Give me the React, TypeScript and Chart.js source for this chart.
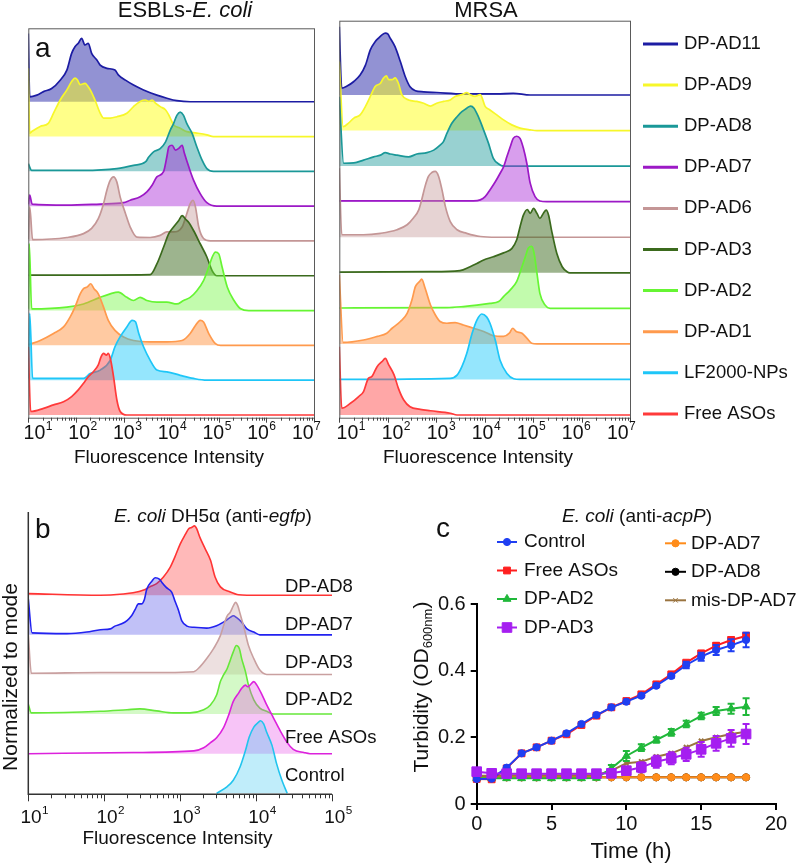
import React, { useEffect, useRef } from 'react';
import { Chart, registerables } from 'chart.js';
import { drawPoint } from 'chart.js/helpers';

Chart.register(...registerables);

const FONT = "'Liberation Sans', Arial, Helvetica, sans-serif";

// ---------------- Panel a data ----------------
const A_ROWS = ['DP-AD11', 'DP-AD9', 'DP-AD8', 'DP-AD7', 'DP-AD6', 'DP-AD3', 'DP-AD2', 'DP-AD1', 'LF2000-NPs', 'Free ASOs'];
const A_TICK_EXPS = [1, 2, 3, 4, 5, 6, 7];

// [log10(intensity), normalized height]
const ESBL_AD11 = [[1.0,1.96],[1.03,0.14],[1.18,0.19],[1.32,0.29],[1.49,0.38],[1.67,0.62],[1.81,0.91],[1.91,1.39],[1.98,1.58],[2.05,1.68],[2.12,1.82],[2.19,1.63],[2.26,1.68],[2.33,1.39],[2.44,1.2],[2.51,1.05],[2.65,0.96],[2.82,0.91],[2.89,0.77],[3.04,0.62],[3.21,0.48],[3.42,0.34],[3.7,0.19],[3.91,0.1],[4.12,0.03],[4.4,0],[7,0]];
const ESBL_AD9 = [[1.0,1.96],[1.03,0.1],[1.07,0.14],[1.25,0.29],[1.42,0.38],[1.53,0.67],[1.67,1.05],[1.81,1.34],[1.91,1.58],[1.98,1.68],[2.03,1.63],[2.09,1.49],[2.19,1.53],[2.3,1.34],[2.4,1.05],[2.51,0.67],[2.58,0.53],[2.72,0.53],[2.86,0.57],[3.07,0.67],[3.21,0.86],[3.35,1.01],[3.46,1.05],[3.53,1.01],[3.6,1.05],[3.67,0.96],[3.77,0.86],[3.88,0.77],[3.95,0.62],[4.05,0.34],[4.19,0.24],[4.33,0.14],[4.54,0.1],[4.75,0.05],[4.89,0],[7,0]];
const ESBL_AD8 = [[1.0,0.22],[1.07,0.03],[2.16,0.03],[2.86,0.08],[3.21,0.17],[3.46,0.27],[3.53,0.41],[3.63,0.56],[3.77,0.65],[3.88,0.84],[3.98,1.18],[4.05,1.37],[4.12,1.61],[4.19,1.7],[4.26,1.61],[4.33,1.37],[4.44,1.09],[4.54,0.7],[4.65,0.32],[4.75,0.08],[4.89,0],[7,0]];
const ESBL_AD7 = [[1.0,0.05],[1.03,0.32],[1.08,0.06],[1.81,0.03],[2.51,0.06],[3.0,0.1],[3.14,0.17],[3.35,0.27],[3.49,0.41],[3.6,0.6],[3.7,0.84],[3.84,0.99],[3.91,1.42],[3.95,1.7],[4.02,1.75],[4.09,1.61],[4.16,1.66],[4.23,1.75],[4.28,1.51],[4.37,1.13],[4.47,0.75],[4.61,0.36],[4.75,0.1],[4.96,0],[7,0]];
const ESBL_AD6 = [[1.0,0.05],[1.03,0.98],[1.09,0.04],[1.81,0.1],[2.16,0.21],[2.33,0.36],[2.47,0.64],[2.58,1.07],[2.65,1.46],[2.72,1.74],[2.79,1.84],[2.86,1.69],[2.93,1.26],[3.04,0.79],[3.14,0.4],[3.28,0.11],[3.56,0.1],[3.77,0.16],[3.91,0.26],[4.05,0.26],[4.23,0.4],[4.33,0.79],[4.4,1.07],[4.46,1.17],[4.51,0.98],[4.58,0.4],[4.68,0.07],[4.82,0],[7,0]];
const ESBL_AD3 = [[1.0,0.02],[2.51,0.02],[3.56,0.03],[3.7,0.34],[3.84,0.82],[3.95,1.21],[4.05,1.4],[4.16,1.59],[4.23,1.73],[4.3,1.63],[4.37,1.53],[4.47,1.3],[4.61,0.92],[4.75,0.54],[4.86,0.15],[4.96,0],[7,0]];
const ESBL_AD2 = [[1.0,0.05],[1.02,1.92],[1.07,0.05],[1.81,0.1],[2.16,0.19],[2.51,0.38],[2.72,0.48],[2.89,0.53],[3.07,0.38],[3.21,0.29],[3.35,0.38],[3.49,0.29],[3.7,0.24],[3.91,0.24],[4.12,0.19],[4.26,0.29],[4.4,0.38],[4.54,0.57],[4.68,0.86],[4.79,1.25],[4.86,1.53],[4.93,1.68],[5.0,1.63],[5.07,1.25],[5.18,0.67],[5.32,0.29],[5.46,0.05],[5.63,0],[7,0]];
const ESBL_AD1 = [[1.0,0.02],[1.07,0.05],[1.25,0.14],[1.53,0.34],[1.74,0.53],[1.88,0.82],[1.98,1.1],[2.09,1.48],[2.16,1.63],[2.24,1.68],[2.31,1.77],[2.38,1.63],[2.47,1.48],[2.58,1.1],[2.68,0.72],[2.82,0.43],[3.0,0.24],[3.21,0.14],[3.56,0.1],[3.91,0.1],[4.23,0.14],[4.4,0.34],[4.51,0.57],[4.61,0.72],[4.68,0.67],[4.79,0.34],[4.93,0.05],[5.04,0],[7,0]];
const ESBL_LF = [[1.0,0.05],[1.03,1.92],[1.09,0.05],[2.16,0.05],[2.3,0.19],[2.51,0.29],[2.72,0.57],[2.82,0.96],[2.93,1.25],[3.07,1.53],[3.18,1.72],[3.25,1.68],[3.32,1.34],[3.42,0.96],[3.56,0.57],[3.7,0.29],[3.91,0.24],[4.19,0.14],[4.47,0.05],[4.75,0],[7,0]];
const ESBL_FREE = [[1.0,1.96],[1.05,0.1],[1.32,0.19],[1.53,0.29],[1.74,0.38],[1.91,0.53],[2.05,0.72],[2.16,0.91],[2.26,1.1],[2.37,1.25],[2.47,1.44],[2.53,1.68],[2.58,1.77],[2.64,1.72],[2.68,1.77],[2.73,1.58],[2.79,1.1],[2.86,0.43],[2.93,0.1],[3.07,0],[7,0]];

const MRSA_AD11 = [[1.0,1.92],[1.05,0.19],[1.16,0.25],[1.3,0.38],[1.43,0.56],[1.54,0.84],[1.64,1.27],[1.74,1.5],[1.81,1.6],[1.88,1.69],[1.95,1.74],[2.0,1.72],[2.05,1.6],[2.15,1.36],[2.26,0.94],[2.36,0.52],[2.46,0.23],[2.57,0.12],[2.74,0.09],[3.01,0.07],[3.56,0.03],[4.25,0.03],[4.59,0.05],[4.94,0],[7,0]];
const MRSA_AD9 = [[1.0,1.94],[1.08,0.11],[1.19,0.21],[1.3,0.35],[1.43,0.44],[1.54,0.68],[1.64,0.96],[1.74,1.24],[1.85,1.33],[1.91,1.47],[1.97,1.54],[2.02,1.43],[2.09,1.43],[2.15,1.48],[2.22,1.33],[2.29,1.01],[2.43,0.86],[2.6,0.82],[2.74,0.77],[2.88,0.69],[3.01,0.77],[3.15,0.82],[3.29,0.86],[3.39,0.96],[3.53,1.01],[3.63,1.07],[3.7,1.01],[3.8,0.96],[3.91,1.01],[4.01,0.68],[4.11,0.58],[4.25,0.44],[4.39,0.3],[4.56,0.16],[4.73,0.07],[4.94,0.02],[5.08,0],[7,0]];
const MRSA_AD8 = [[1.0,1.95],[1.09,0.08],[1.3,0.09],[1.5,0.17],[1.71,0.26],[1.85,0.31],[1.95,0.38],[2.05,0.34],[2.19,0.31],[2.43,0.26],[2.6,0.34],[2.81,0.38],[2.95,0.45],[3.08,0.59],[3.15,0.69],[3.22,0.92],[3.32,1.2],[3.43,1.39],[3.53,1.53],[3.63,1.63],[3.71,1.69],[3.78,1.63],[3.87,1.39],[3.98,1.01],[4.08,0.64],[4.18,0.22],[4.29,0.06],[4.39,0],[7,0]];
const MRSA_AD7 = [[1.0,0.02],[3.77,0.02],[3.91,0.05],[4.01,0.14],[4.11,0.33],[4.22,0.56],[4.32,0.8],[4.39,0.98],[4.46,1.27],[4.53,1.55],[4.59,1.78],[4.66,1.84],[4.73,1.78],[4.8,1.5],[4.87,1.08],[4.94,0.52],[5.04,0.14],[5.14,0.02],[5.28,0],[7,0]];
const MRSA_AD6 = [[1.0,1.94],[1.05,0.07],[1.5,0.07],[1.85,0.11],[2.19,0.21],[2.4,0.35],[2.53,0.54],[2.64,0.77],[2.7,1.05],[2.77,1.43],[2.84,1.71],[2.91,1.82],[2.98,1.85],[3.05,1.71],[3.12,1.33],[3.19,0.86],[3.29,0.44],[3.43,0.21],[3.63,0.11],[3.91,0.02],[4.25,0],[7,0]];
const MRSA_AD3 = [[1.0,0.02],[2.88,0.03],[3.49,0.06],[3.7,0.17],[3.84,0.26],[3.98,0.36],[4.18,0.45],[4.39,0.56],[4.56,0.68],[4.66,0.92],[4.73,1.29],[4.8,1.62],[4.88,1.78],[4.94,1.67],[5.01,1.81],[5.08,1.67],[5.14,1.53],[5.21,1.67],[5.27,1.76],[5.32,1.62],[5.38,1.2],[5.49,0.54],[5.6,0.17],[5.7,0.03],[5.76,0],[7,0]];
const MRSA_AD2 = [[1.0,0.01],[3.22,0.02],[3.56,0.05],[3.84,0.09],[4.11,0.14],[4.29,0.19],[4.39,0.33],[4.53,0.52],[4.66,0.75],[4.77,1.17],[4.84,1.45],[4.9,1.69],[4.97,1.74],[5.02,1.55],[5.08,0.98],[5.14,0.42],[5.25,0.09],[5.35,0],[7,0]];
const MRSA_AD1 = [[1.0,1.94],[1.08,0.04],[1.5,0.11],[1.78,0.21],[1.98,0.3],[2.09,0.44],[2.26,0.63],[2.4,0.86],[2.5,1.24],[2.57,1.61],[2.66,1.76],[2.7,1.82],[2.77,1.57],[2.88,1.1],[2.98,0.82],[3.08,0.63],[3.22,0.58],[3.39,0.6],[3.56,0.53],[3.77,0.44],[3.98,0.35],[4.18,0.23],[4.39,0.21],[4.51,0.3],[4.58,0.44],[4.65,0.35],[4.77,0.3],[4.87,0.16],[4.97,0.02],[5.08,0],[7,0]];
const MRSA_LF = [[1.0,0],[3.29,0.03],[3.43,0.12],[3.53,0.36],[3.63,0.73],[3.74,1.29],[3.84,1.67],[3.94,1.84],[4.04,1.76],[4.11,1.58],[4.22,1.1],[4.32,0.53],[4.46,0.17],[4.6,0.02],[4.73,0],[7,0]];
const MRSA_FREE = [[1.0,1.92],[1.05,0.19],[1.23,0.33],[1.4,0.52],[1.5,0.66],[1.6,1.03],[1.67,1.08],[1.78,1.36],[1.88,1.5],[1.95,1.59],[2.02,1.41],[2.13,1.13],[2.22,0.75],[2.33,0.42],[2.46,0.23],[2.67,0.16],[2.88,0.12],[3.29,0.05],[3.43,0],[7,0]];

const ESBL_CURVES = [ESBL_AD11, ESBL_AD9, ESBL_AD8, ESBL_AD7, ESBL_AD6, ESBL_AD3, ESBL_AD2, ESBL_AD1, ESBL_LF, ESBL_FREE];
const MRSA_CURVES = [MRSA_AD11, MRSA_AD9, MRSA_AD8, MRSA_AD7, MRSA_AD6, MRSA_AD3, MRSA_AD2, MRSA_AD1, MRSA_LF, MRSA_FREE];

const A_LINE_COLORS = ['#1c1ca3', '#f7f72a', '#1a9898', '#9c19c6', '#c49696', '#3b6a1d', '#66f533', '#ff9a4d', '#1ec6f8', '#ff3a3a'];
const A_FILL_COLORS = ['rgba(28,28,163,0.48)', 'rgba(255,255,20,0.5)', 'rgba(26,152,152,0.45)', 'rgba(168,40,215,0.45)', 'rgba(196,150,150,0.42)', 'rgba(59,106,29,0.5)', 'rgba(110,245,60,0.42)', 'rgba(255,150,70,0.5)', 'rgba(20,200,250,0.45)', 'rgba(255,60,60,0.45)'];

// ---------------- Panel b data ----------------
const B_ROWS = ['DP-AD8', 'DP-AD7', 'DP-AD3', 'DP-AD2', 'Free ASOs', 'Control'];
const B_TICK_EXPS = [1, 2, 3, 4, 5];
const B_AD8 = [[1.0,0.04],[1.95,0],[2.25,0.03],[2.38,0.06],[2.52,0.13],[2.6,0.21],[2.69,0.29],[2.78,0.46],[2.87,0.71],[2.93,0.96],[3.0,1.29],[3.07,1.54],[3.11,1.67],[3.15,1.71],[3.19,1.75],[3.22,1.67],[3.26,1.46],[3.33,1.17],[3.4,0.88],[3.46,0.46],[3.53,0.21],[3.66,0.08],[3.77,0.01],[3.88,0],[5,0]];
const B_AD7 = [[1.0,0.9],[1.05,0.05],[1.51,0.03],[1.77,0.07],[1.95,0.13],[2.08,0.15],[2.14,0.22],[2.23,0.28],[2.3,0.36],[2.36,0.48],[2.41,0.65],[2.45,0.78],[2.49,0.78],[2.53,0.9],[2.56,1.15],[2.63,1.36],[2.67,1.44],[2.73,1.4],[2.76,1.32],[2.82,1.19],[2.89,1.07],[2.93,0.86],[2.98,0.61],[3.02,0.36],[3.09,0.22],[3.18,0.19],[3.35,0.17],[3.48,0.23],[3.57,0.32],[3.66,0.44],[3.7,0.48],[3.74,0.44],[3.81,0.32],[3.88,0.15],[3.97,0.07],[4.05,0],[5,0]];
const B_AD3 = [[1.0,1.0],[1.04,0.03],[1.95,0.05],[2.82,0.05],[3.18,0.07],[3.26,0.19],[3.35,0.4],[3.44,0.65],[3.53,0.98],[3.58,1.28],[3.62,1.48],[3.66,1.57],[3.7,1.73],[3.73,1.82],[3.76,1.73],[3.79,1.53],[3.84,1.19],[3.9,0.73],[3.97,0.4],[4.05,0.11],[4.14,0],[5,0]];
const B_AD2 = [[1.0,0.25],[1.04,0.03],[1.95,0.07],[2.3,0.11],[2.47,0.13],[2.69,0.08],[2.91,0.03],[3.13,0.03],[3.31,0.11],[3.4,0.23],[3.48,0.48],[3.53,0.82],[3.57,0.98],[3.62,1.15],[3.66,1.36],[3.7,1.57],[3.74,1.73],[3.78,1.65],[3.81,1.4],[3.86,1.07],[3.9,0.73],[3.97,0.36],[4.05,0.15],[4.14,0.07],[4.23,0],[5,0]];
const B_FREE = [[1.0,0],[2.38,0.03],[3.18,0.07],[3.31,0.15],[3.4,0.28],[3.48,0.4],[3.57,0.65],[3.64,0.98],[3.7,1.32],[3.77,1.53],[3.81,1.65],[3.86,1.73],[3.89,1.69],[3.92,1.73],[3.97,1.82],[4.01,1.73],[4.08,1.48],[4.14,1.23],[4.23,0.9],[4.32,0.57],[4.41,0.28],[4.49,0.11],[4.63,0.03],[4.71,0],[5,0]];
const B_CTRL = [[3.48,0],[3.62,0.17],[3.7,0.33],[3.79,0.67],[3.86,1.08],[3.91,1.42],[3.97,1.67],[4.03,1.79],[4.06,1.83],[4.1,1.75],[4.14,1.54],[4.21,1.21],[4.27,0.75],[4.34,0.33],[4.41,0]];
const B_CURVES = [B_AD8, B_AD7, B_AD3, B_AD2, B_FREE, B_CTRL];
const B_LINE_COLORS = ['#ff3434', '#2222f0', '#c9a0a0', '#66e83a', '#dc22dc', '#22c4ee'];
const B_FILL_COLORS = ['rgba(255,70,70,0.38)', 'rgba(50,50,230,0.3)', 'rgba(200,160,160,0.32)', 'rgba(120,235,80,0.32)', 'rgba(230,70,230,0.32)', 'rgba(60,200,240,0.32)'];

// ---------------- Panel c data ----------------
const C_TIMES = [0, 1, 2, 3, 4, 5, 6, 7, 8, 9, 10, 11, 12, 13, 14, 15, 16, 17, 18];
const C_LABELS = ['Control', 'Free ASOs', 'DP-AD2', 'DP-AD3', 'DP-AD7', 'DP-AD8', 'mis-DP-AD7'];
const C_CONTROL = [0.075,0.076,0.109,0.152,0.17,0.19,0.212,0.24,0.267,0.29,0.307,0.325,0.355,0.384,0.417,0.442,0.462,0.476,0.492];
const C_FREE = [0.075,0.074,0.107,0.152,0.17,0.19,0.209,0.237,0.265,0.29,0.309,0.329,0.359,0.389,0.424,0.452,0.475,0.492,0.504];
const C_AD2 = [0.077,0.077,0.077,0.077,0.077,0.077,0.077,0.077,0.078,0.107,0.144,0.169,0.192,0.215,0.24,0.264,0.279,0.286,0.292];
const C_AD3 = [0.097,0.092,0.091,0.091,0.091,0.091,0.091,0.091,0.091,0.092,0.1,0.11,0.127,0.137,0.149,0.164,0.182,0.197,0.21];
const C_AD7 = [0.08,0.08,0.08,0.08,0.08,0.08,0.08,0.08,0.08,0.08,0.08,0.08,0.08,0.08,0.08,0.08,0.08,0.08,0.08];
const C_AD8 = [0.082,0.08,0.08,0.08,0.08,0.08,0.08,0.08,0.08,0.08,0.08,0.08,0.08,0.08,0.08,0.08,0.08,0.08,0.08];
const C_MIS = [0.085,0.085,0.086,0.086,0.086,0.086,0.086,0.086,0.087,0.1,0.122,0.127,0.142,0.152,0.17,0.189,0.2,0.21,0.217];
const C_CONTROL_ERR = [0,0,0.004,0,0,0,0,0,0,0,0,0,0,0.005,0.01,0.012,0.015,0.018,0.022];
const C_FREE_ERR = [0,0,0,0,0,0,0,0,0,0,0,0,0,0,0.005,0.006,0.008,0.008,0.01];
const C_AD2_ERR = [0,0,0,0,0,0,0,0,0,0.01,0.015,0.01,0.008,0.01,0.01,0.01,0.012,0.015,0.025];
const C_AD3_ERR = [0,0,0,0,0,0,0,0,0,0.006,0.01,0.015,0.018,0.018,0.02,0.022,0.022,0.025,0.03];
const C_ZERO_ERR = [0,0,0,0,0,0,0,0,0,0,0,0,0,0,0,0,0,0,0];
const C_VALUES = [C_CONTROL, C_FREE, C_AD2, C_AD3, C_AD7, C_AD8, C_MIS];
const C_ERRORS = [C_CONTROL_ERR, C_FREE_ERR, C_AD2_ERR, C_AD3_ERR, C_ZERO_ERR, C_ZERO_ERR, C_ZERO_ERR];
const C_COLORS = ['#1f3ff2', '#ff1f1f', '#20b83a', '#a51ff0', '#ff8c1a', '#000000', '#9a7440'];
const C_POINT_STYLES = ['circle', 'rect', 'triangle', 'rect', 'circle', 'circle', 'crossRot'];
const C_POINT_RADII = [3.6, 4.8, 4.6, 6.8, 3.6, 3.6, 3.2];
const C_ORDERS = [1, 2, 3, 0, 5, 6, 4];
const C_Y_TICKS = [0, 0.2, 0.4, 0.6];

// ---------------- helpers ----------------
function font(size: number, italic = false) {
  return `${italic ? 'italic ' : ''}${size}px ${FONT}`;
}

type Part = { t: string; i?: boolean; sub?: boolean };

function drawRich(ctx: CanvasRenderingContext2D, parts: Part[], x: number, y: number, size: number, align: 'center' | 'left') {
  ctx.textBaseline = 'middle';
  ctx.textAlign = 'left';
  const sizes = parts.map((p) => (p.sub ? size * 0.62 : size));
  const widths = parts.map((p, k) => {
    ctx.font = font(sizes[k], p.i);
    return ctx.measureText(p.t).width;
  });
  const total = widths.reduce((a, b) => a + b, 0);
  let cx = align === 'center' ? x - total / 2 : x;
  parts.forEach((p, k) => {
    ctx.font = font(sizes[k], p.i);
    ctx.fillText(p.t, cx, p.sub ? y + size * 0.32 : y);
    cx += widths[k];
  });
}

function drawPow(ctx: CanvasRenderingContext2D, exp: string, cx: number, cy: number, size: number) {
  ctx.textBaseline = 'middle';
  ctx.textAlign = 'left';
  ctx.font = font(size);
  const w1 = ctx.measureText('10').width;
  const ss = size * 0.62;
  ctx.font = font(ss);
  const w2 = ctx.measureText(exp).width;
  const x0 = cx - (w1 + w2) / 2;
  ctx.font = font(size);
  ctx.fillText('10', x0, cy);
  ctx.font = font(ss);
  ctx.fillText(exp, x0 + w1 + 0.5, cy - size * 0.36);
}

function drawLogTicks(ctx: CanvasRenderingContext2D, xs: any, yPix: number, first: number, last: number, majorLen: number, minorLen: number) {
  ctx.beginPath();
  for (let e = first; e <= last; e++) {
    const x = Math.round(xs.getPixelForValue(Math.pow(10, e))) + 0.5;
    ctx.moveTo(x, yPix);
    ctx.lineTo(x, yPix + majorLen);
    if (e < last) {
      for (let k = 2; k <= 9; k++) {
        const xm = Math.round(xs.getPixelForValue(k * Math.pow(10, e))) + 0.5;
        ctx.moveTo(xm, yPix);
        ctx.lineTo(xm, yPix + minorLen);
      }
    }
  }
  ctx.stroke();
}

function ridgeChart(canvas: HTMLCanvasElement, curves: number[][][], labels: string[], lineColors: string[], fillColors: string[], maxExp: number, yMin: number, yMax: number, padding: any, lw: number, plugin: any) {
  const n = curves.length;
  const datasets = curves.map((c, i) => {
    const base = n - 1 - i;
    return {
      label: labels[i],
      data: c.map(([lx, h]) => ({ x: Math.pow(10, lx), y: base + h })),
      borderColor: lineColors[i],
      backgroundColor: fillColors[i],
      borderWidth: lw,
      pointRadius: 0,
      fill: { value: base },
      cubicInterpolationMode: 'monotone',
      order: base,
    };
  });
  return new Chart(canvas, {
    type: 'line',
    data: { datasets } as any,
    options: {
      responsive: false,
      animation: false,
      devicePixelRatio: 1,
      layout: { padding },
      events: [],
      plugins: { legend: { display: false }, tooltip: { enabled: false } },
      scales: {
        x: { type: 'logarithmic', min: 10, max: Math.pow(10, maxExp), display: false },
        y: { type: 'linear', min: yMin, max: yMax, display: false },
      },
    } as any,
    plugins: [plugin],
  });
}

// ---------------- plugins ----------------
const esblPlugin = {
  id: 'esblDecor',
  afterDraw(chart: any) {
    const ctx = chart.ctx, ca = chart.chartArea, xs = chart.scales.x;
    ctx.save();
    ctx.strokeStyle = '#5a5a5a';
    ctx.lineWidth = 1;
    ctx.strokeRect(ca.left + 0.5, ca.top + 0.5, ca.right - ca.left, ca.bottom - ca.top);
    ctx.strokeStyle = '#444';
    drawLogTicks(ctx, xs, ca.bottom, A_TICK_EXPS[0], A_TICK_EXPS[A_TICK_EXPS.length - 1], 5, 3);
    ctx.fillStyle = '#111';
    A_TICK_EXPS.forEach((e, i) => drawPow(ctx, String(e), xs.getPixelForValue(Math.pow(10, e)) + 9.5 - 2.9 * i, 434, 19.5));
    drawRich(ctx, [{ t: 'Fluorescence Intensity' }], 169, 458, 19, 'center');
    drawRich(ctx, [{ t: 'ESBLs-' }, { t: 'E. coli', i: true }], 185, 11, 22, 'center');
    ctx.font = font(28);
    ctx.textAlign = 'left';
    ctx.textBaseline = 'alphabetic';
    ctx.fillText('a', 35, 57);
    ctx.restore();
  },
};

const MRSA_OX = 330;
const mrsaPlugin = {
  id: 'mrsaDecor',
  afterDraw(chart: any) {
    const ctx = chart.ctx, ca = chart.chartArea, xs = chart.scales.x;
    ctx.save();
    ctx.strokeStyle = '#5a5a5a';
    ctx.lineWidth = 1;
    ctx.strokeRect(ca.left + 0.5, ca.top + 0.5, ca.right - ca.left, ca.bottom - ca.top);
    ctx.strokeStyle = '#444';
    drawLogTicks(ctx, xs, ca.bottom, A_TICK_EXPS[0], A_TICK_EXPS[A_TICK_EXPS.length - 1], 5, 3);
    ctx.fillStyle = '#111';
    A_TICK_EXPS.forEach((e, i) => drawPow(ctx, String(e), xs.getPixelForValue(Math.pow(10, e)) + 11.5 - 3.4 * i, 434, 19.5));
    drawRich(ctx, [{ t: 'Fluorescence Intensity' }], 478 - MRSA_OX, 458, 19, 'center');
    drawRich(ctx, [{ t: 'MRSA' }], 486 - MRSA_OX, 11, 22, 'center');
    // legend
    A_ROWS.forEach((name, i) => {
      const y = 44 + i * 41.1;
      ctx.strokeStyle = A_LINE_COLORS[i];
      ctx.lineWidth = 3;
      ctx.beginPath();
      ctx.moveTo(643 - MRSA_OX, y);
      ctx.lineTo(678 - MRSA_OX, y);
      ctx.stroke();
      ctx.fillStyle = '#111';
      drawRich(ctx, [{ t: name }], 684 - MRSA_OX, y, 18.5, 'left');
    });
    ctx.restore();
  },
};

const B_OY = 480;
const bPlugin = {
  id: 'bDecor',
  afterDraw(chart: any) {
    const ctx = chart.ctx, ca = chart.chartArea, xs = chart.scales.x, ys = chart.scales.y;
    ctx.save();
    ctx.strokeStyle = '#333';
    ctx.lineWidth = 1.5;
    ctx.beginPath();
    ctx.moveTo(ca.left, ca.top);
    ctx.lineTo(ca.left, ca.bottom);
    ctx.lineTo(ca.right, ca.bottom);
    ctx.stroke();
    ctx.lineWidth = 1;
    drawLogTicks(ctx, xs, ca.bottom, B_TICK_EXPS[0], B_TICK_EXPS[B_TICK_EXPS.length - 1], 7, 4);
    ctx.fillStyle = '#111';
    B_TICK_EXPS.forEach((e) => drawPow(ctx, String(e), xs.getPixelForValue(Math.pow(10, e)) + 6, 817.5 - B_OY, 19));
    drawRich(ctx, [{ t: 'Fluorescence Intensity' }], 177.5, 839 - B_OY, 19, 'center');
    drawRich(ctx, [{ t: 'E. coli', i: true }, { t: ' DH5\u03b1 (anti-' }, { t: 'egfp', i: true }, { t: ')' }], 213, 517 - B_OY, 19, 'center');
    const n = B_ROWS.length;
    B_ROWS.forEach((name, i) => {
      const k = n - 1 - i;
      drawRich(ctx, [{ t: name }], 285, ys.getPixelForValue(k * 0.95 + 0.45), 18.5, 'left');
    });
    ctx.save();
    ctx.translate(11, 677 - B_OY);
    ctx.rotate(-Math.PI / 2);
    drawRich(ctx, [{ t: 'Normalized to mode' }], 0, 0, 21, 'center');
    ctx.restore();
    ctx.font = font(28);
    ctx.textAlign = 'left';
    ctx.textBaseline = 'alphabetic';
    ctx.fillText('b', 35, 538 - B_OY);
    ctx.restore();
  },
};

const C_OX = 400, C_OY = 480;
const cPlugin = {
  id: 'cDecor',
  afterDatasetDraw(chart: any, args: any) {
    const ds = chart.data.datasets[args.index];
    const errs = ds.errorBars as number[] | undefined;
    if (!errs) return;
    const ctx = chart.ctx, xs = chart.scales.x, ys = chart.scales.y;
    ctx.save();
    ctx.strokeStyle = ds.borderColor;
    ctx.lineWidth = 2;
    ctx.beginPath();
    ds.data.forEach((p: any, k: number) => {
      const e = errs[k];
      if (!e) return;
      const x = xs.getPixelForValue(p.x);
      const y1 = ys.getPixelForValue(p.y - e);
      const y2 = ys.getPixelForValue(p.y + e);
      ctx.moveTo(x, y1); ctx.lineTo(x, y2);
      ctx.moveTo(x - 3.5, y1); ctx.lineTo(x + 3.5, y1);
      ctx.moveTo(x - 3.5, y2); ctx.lineTo(x + 3.5, y2);
    });
    ctx.stroke();
    ctx.restore();
  },
  afterDraw(chart: any) {
    const ctx = chart.ctx;
    ctx.save();
    ctx.fillStyle = '#111';
    drawRich(ctx, [{ t: 'E. coli', i: true }, { t: ' (anti-' }, { t: 'acpP', i: true }, { t: ')' }], 637 - C_OX, 517 - C_OY, 19, 'center');
    drawRich(ctx, [{ t: 'Time (h)' }], 631 - C_OX, 852 - C_OY, 22, 'center');
    ctx.save();
    ctx.translate(422 - C_OX, 687 - C_OY);
    ctx.rotate(-Math.PI / 2);
    drawRich(ctx, [{ t: 'Turbidity (OD' }, { t: '600nm', sub: true }, { t: ')' }], 0, 0, 21, 'center');
    ctx.restore();
    ctx.font = font(28);
    ctx.textAlign = 'left';
    ctx.textBaseline = 'alphabetic';
    ctx.fillText('c', 436 - C_OX, 537 - C_OY);
    // legend
    C_LABELS.forEach((name, j) => {
      const col = j < 4 ? 0 : 1;
      const row = j < 4 ? j : j - 4;
      const x0 = (col === 0 ? 497 : 665) - C_OX;
      const x1 = (col === 0 ? 517 : 686) - C_OX;
      const tx = (col === 0 ? 524 : 691) - C_OX;
      const y = 542 + row * 28.5 + (col === 1 ? 1.3 : 0) - C_OY;
      ctx.strokeStyle = C_COLORS[j];
      ctx.fillStyle = C_COLORS[j];
      ctx.lineWidth = 2;
      ctx.beginPath();
      ctx.moveTo(x0, y);
      ctx.lineTo(x1, y);
      ctx.stroke();
      ctx.lineWidth = 1;
      drawPoint(ctx, { pointStyle: C_POINT_STYLES[j], radius: C_POINT_RADII[j], borderWidth: C_POINT_STYLES[j] === 'crossRot' ? 2 : 1, rotation: 0 } as any, (x0 + x1) / 2, y);
      ctx.fillStyle = '#111';
      drawRich(ctx, [{ t: name }], tx, y, 19, 'left');
    });
    ctx.restore();
  },
};

function turbidityChart(canvas: HTMLCanvasElement) {
  const datasets = C_VALUES.map((vals, j) => ({
    label: C_LABELS[j],
    data: C_TIMES.map((t, k) => ({ x: t, y: vals[k] })),
    errorBars: C_ERRORS[j],
    borderColor: C_COLORS[j],
    backgroundColor: C_COLORS[j],
    pointBackgroundColor: C_COLORS[j],
    pointBorderColor: C_COLORS[j],
    pointStyle: C_POINT_STYLES[j],
    pointRadius: C_POINT_RADII[j],
    pointBorderWidth: C_POINT_STYLES[j] === 'crossRot' ? 2 : 1,
    borderWidth: 2,
    tension: 0,
    fill: false,
    clip: false,
    order: C_ORDERS[j],
  }));
  return new Chart(canvas, {
    type: 'line',
    data: { datasets } as any,
    options: {
      responsive: false,
      animation: false,
      devicePixelRatio: 1,
      events: [],
      layout: { padding: { top: 124, right: 21, left: 0, bottom: 0 } },
      plugins: { legend: { display: false }, tooltip: { enabled: false } },
      scales: {
        x: {
          type: 'linear', min: 0, max: 20,
          ticks: { stepSize: 5, color: '#111', font: { family: FONT, size: 20 }, padding: 2, maxRotation: 0, autoSkip: false },
          grid: { drawOnChartArea: false, drawTicks: true, tickLength: 6, color: '#000', lineWidth: 2 },
          border: { display: true, color: '#000', width: 2 },
          afterFit: (s: any) => { s.height = 62; },
        },
        y: {
          type: 'linear', min: 0, max: 0.6,
          afterBuildTicks: (s: any) => { s.ticks = C_Y_TICKS.map((v) => ({ value: v })); },
          ticks: { color: '#111', font: { family: FONT, size: 20 }, padding: 5, callback: (v: any) => (Number(v) === 0 ? '0' : Number(v).toFixed(1)) },
          grid: { drawOnChartArea: false, drawTicks: true, tickLength: 6, color: '#000', lineWidth: 2 },
          border: { display: true, color: '#000', width: 2 },
          afterFit: (s: any) => { s.width = 76.7; },
        },
      },
    } as any,
    plugins: [cPlugin],
  });
}

export default function App() {
  const aLeft = useRef<HTMLCanvasElement>(null);
  const aRight = useRef<HTMLCanvasElement>(null);
  const bRef = useRef<HTMLCanvasElement>(null);
  const cRef = useRef<HTMLCanvasElement>(null);

  useEffect(() => {
    const charts = [
      ridgeChart(aLeft.current!, ESBL_CURVES, A_ROWS, A_LINE_COLORS, A_FILL_COLORS, 7, -0.078, 11.11, { left: 28.3, right: 16, top: 28.3, bottom: 52.3 }, 1.7, esblPlugin),
      ridgeChart(aRight.current!, MRSA_CURVES, A_ROWS, A_LINE_COLORS, A_FILL_COLORS, 7, -0.076, 11.09, { left: 9.3, right: 167, top: 20.7, bottom: 52.3 }, 1.7, mrsaPlugin),
      ridgeChart(bRef.current!, B_CURVES, B_ROWS, B_LINE_COLORS, B_FILL_COLORS, 5, -0.025, 7.1, { left: 28.3, right: 68, top: 32, bottom: 71.7 }, 1.6, bPlugin),
      turbidityChart(cRef.current!),
    ];
    return () => charts.forEach((c) => c.destroy());
  }, []);

  const abs = (l: number, t: number, w: number, h: number): React.CSSProperties => ({ position: 'absolute', left: l, top: t, width: w, height: h });

  return (
    <div style={{ position: 'absolute', left: 0, top: 0, width: 797, height: 866, background: '#fff', overflow: 'hidden' }}>
      <canvas ref={aLeft} width={330} height={470} style={abs(0, 0, 330, 470)} />
      <canvas ref={aRight} width={467} height={470} style={abs(330, 0, 467, 470)} />
      <canvas ref={bRef} width={400} height={386} style={abs(0, 480, 400, 386)} />
      <canvas ref={cRef} width={397} height={386} style={abs(400, 480, 397, 386)} />
    </div>
  );
}
